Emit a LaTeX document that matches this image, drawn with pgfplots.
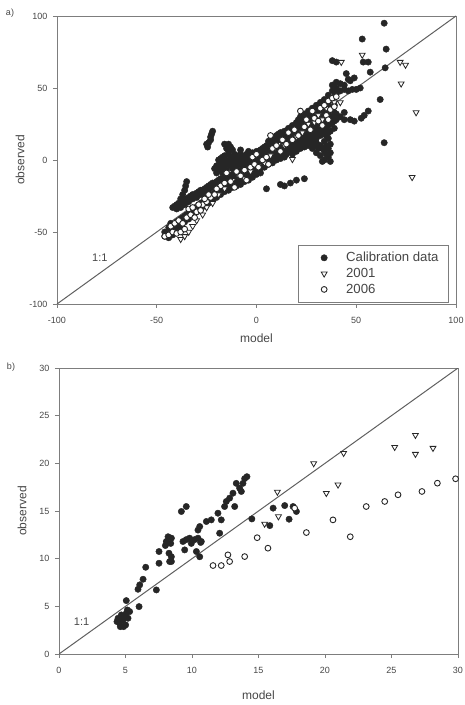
\documentclass[border=0pt]{standalone}
\usepackage{pgfplots}
\pgfplotsset{compat=1.18}
\usepackage{fontspec}
\setmainfont{Liberation Sans}
\definecolor{ink}{RGB}{38,38,38}
\definecolor{frame}{RGB}{125,125,125}
\definecolor{txt}{RGB}{70,70,70}
\definecolor{oneone}{RGB}{95,95,95}

% calibration data, panel a
\pgfplotstableread{
x y
-46 -50
-46 -53
-44 -47
-44 -51
-44 -54
-42 -33
-42 -45
-42 -49
-42 -52
-40 -31
-40 -34
-40 -43
-40 -47
-40 -50
-38 -29
-38 -33
-38 -41
-38 -45
-38 -48
-36 -27
-36 -31
-36 -39
-36 -43
-35 -15
-35.5 -18
-36 -21
-37 -24
-38 -27
-34 -26
-34 -29
-34 -37
-34 -41
-32 -24
-32 -27
-32 -35
-32 -38
-30 -23
-30 -26
-30 -33
-30 -36
-28 -21
-28 -24
-28 -30
-28 -34
-26 -20
-26 -23
-26 -28
-26 -32
-24 -18
-24 -21
-24 -26
-24 -30
-22 -16
-22 -19
-22 -24
-22 -28
-20 -15
-20 -18
-20 -22
-20 -26
-20 -9
-20 -4
-18 -13
-18 -16
-18 -20
-18 -24
-18 -7
-18 -2
-18 1
-16 -12
-16 -15
-16 -19
-16 -22
-16 -5
-16 -1
-16 3
-14 -11
-14 -14
-14 -17
-14 -21
-14 -3
-14 0
-14 4
-12 -10
-12 -13
-12 -16
-12 -19
-12 -6
-12 -1
-12 2
-10 -8
-10 -12
-10 -15
-10 -18
-10 -4
-10 0
-10 3
-8 -7
-8 -10
-8 -14
-8 -17
-8 -3
-8 1
-8 4
-6 -5
-6 -9
-6 -12
-6 -15
-6 -2
-6 2
-4 -4
-4 -8
-4 -11
-4 -14
-4 0
-4 3
-4 6
-2 -2
-2 -6
-2 -9
-2 -12
-2 1
-2 5
0 0
0 -4
0 -7
0 -10
0 3
0 6
2 1
2 -2
2 -6
2 -9
2 4
2 7
4 2
4 -1
4 -5
4 6
4 9
5 -20
6 4
6 0
6 -3
6 7
6 10
6 13
8 5
8 2
8 -2
8 9
8 12
8 15
10 6
10 3
10 0
10 10
10 13
10 17
12 8
12 4
12 1
12 12
12 15
12 19
12 -17
14 9
14 5
14 2
14 13
14 16
14 20
14 -18
16 10
16 6
16 14
16 18
16 22
17 -16
18 12
18 8
18 16
18 20
18 24
18 4
20 14
20 10
20 18
20 22
20 26
20 6
20 -14
22 15
22 11
22 19
22 23
22 27
22 30
22 8
24 16
24 12
24 20
24 24
24 28
24 32
24 9
24 -13
26 18
26 13
26 22
26 26
26 30
26 34
26 10
28 19
28 14
28 23
28 27
28 31
28 36
28 8
30 20
30 15
30 24
30 28
30 32
30 38
30 12
30 5
32 22
32 17
32 26
32 30
32 34
32 40
32 10
32 3
33 -1
34 23
34 18
34 27
34 31
34 35
34 42
34 13
34 6
34 0
36 24
36 19
36 28
36 32
36 38
36 45
36 15
36 8
36 2
37 20
37 25
37 11
37 5
37 -1
38 26
38 30
38 35
38 48
38 52
38 69
40 28
40 32
40 46
40 50
40 54
40 68
42 30
42 48
42 53
44 28
44 33
44 49
44 52
45 60
46 48
46 56
47 28
47 55
48 49
49 27
49 57
50 49
52 50
52.5 29
53 84
53.5 68
54 31
56 34
56 68
57 61
62 42
64 95
64.5 64
64 12
65 77
-22 20
-22.5 18
-23 16
-23 14
-24 12
-25 11
-24.5 9
-16 11
-15 10
-14 11
-13 9
-15 8
-13 8
-12 7
-14 6
-8 7
-43 -48
-43 -44
-41 -46
-41 -32
-39 -44
-39 -30
-37 -40
-37 -28
-35 -38
-35 -27
-33 -36
-33 -25
-31 -34
-31 -24
-29 -32
-29 -22
-27 -30
-27 -21
-25 -27
-25 -19
-23 -25
-23 -17
-21 -23
-21 -16
-21 -6
-19 -21
-19 -14
-19 -5
-19 0
-17 -19
-17 -13
-17 -9
-17 -3
-17 2
-15 -17
-15 -12
-15 -7
-15 -1
-13 -16
-13 -11
-13 -4
-13 1
-11 -14
-11 -9
-11 -2
-11 4
-9 -13
-9 -8
-9 -1
-9 2
-7 -11
-7 -6
-7 0
-7 3
-5 -10
-5 -6
-5 -1
-5 4
-3 -9
-3 -4
-3 2
-1 -7
-1 -3
-1 2
-1 4
1 -5
1 -1
1 3
1 6
3 -3
3 1
3 5
3 8
5 -2
5 3
5 7
5 10
7 0
7 4
7 8
7 11
7 14
9 1
9 5
9 9
9 12
9 16
11 2
11 6
11 11
11 14
11 18
13 3
13 7
13 12
13 16
13 19
15 4
15 8
15 12
15 16
15 20
17 6
17 10
17 14
17 18
17 22
19 7
19 12
19 16
19 20
19 24
21 9
21 13
21 17
21 21
21 25
21 28
23 10
23 14
23 18
23 22
23 26
23 30
25 11
25 15
25 19
25 23
25 27
25 31
27 12
27 16
27 20
27 24
27 28
27 33
29 10
29 17
29 21
29 25
29 29
29 34
31 8
31 18
31 22
31 26
31 30
31 36
33 8
33 20
33 24
33 28
33 33
33 38
35 4
35 10
35 17
35 21
35 26
35 30
35 34
35 40
39 22
39 27
39 33
39 38
39 44
}\calA

% 2001, panel a
\pgfplotstableread{
x y
-38 -55
-36 -53
-34 -50
-32 -46
-30 -42
-27 -38
-25 -33
-22 -30
-19 -24
-16 -20
-12 -14
-9 -11
-6 -13
-3 -8
1 -4
4 -2
7 3
9 8
11 11
14 10
18 0.5
20 16
23 19
26 25
29 26
31 31
33 28
35 36
37 41
39 40
40 45
38 36
42 40
53 73
42.5 68
72 68
74.7 66
72.5 53
80 33
78 -12
}\yrA

% 2006, panel a
\pgfplotstableread{
x y
-46 -53
-44 -52
-42 -50
-40 -51
-38 -50
-36 -48
-43 -46
-41 -44
-39 -42
-37 -44
-35 -40
-33 -38
-31 -40
-30 -36
-28 -35
-27 -31
-25 -29
-34 -34
-32 -33
-29 -31
-26 -27
-23 -26
-21 -24
-18 -18
-16 -16
-13 -15
-11 -19
-10 -8
-8 -11
-6 -7
-5 -14
-3 -5
-1 -3
1 -5
3 0
5 2
6 -3
7 17
8 8
10 10
12 6
13 14
15 11
16 19
18 14
19 21
21 17
22 34
24 23
25 28
27 21
28 34
29 29
31 27
32 36
33 24
34 38
35 31
36 41
37 35
38 43
39 37
40 44
36 28
-2 2
0 4
-15 -9
-20 -20
-24 -24
}\ysA

% calibration data, panel b
\pgfplotstableread{
x y
4.44 3.75
4.56 3.22
4.69 4.10
4.81 3.57
4.94 3.92
5.06 4.27
5.19 3.75
5.31 4.45
5.01 3.05
4.61 2.87
4.36 3.40
5.14 4.62
4.86 2.87
5.06 5.60
6.02 4.97
5.94 6.79
6.07 7.25
6.32 7.84
6.52 9.10
7.32 6.72
7.52 10.75
7.52 9.52
8.00 11.38
8.07 11.80
8.32 9.70
8.45 10.20
8.27 10.57
8.45 12.15
8.40 11.60
8.45 9.70
8.20 12.30
9.20 14.95
9.57 15.47
9.32 11.80
9.45 10.92
9.57 12.00
9.82 12.15
9.95 11.60
10.20 12.00
10.45 12.15
10.70 11.80
10.58 13.37
10.45 13.00
10.33 10.75
10.58 10.20
10.65 11.70
11.08 13.90
11.45 14.07
11.95 14.77
12.08 12.67
12.20 14.07
12.45 15.47
12.58 16.00
12.83 16.35
13.08 16.87
13.21 15.47
13.33 17.90
13.58 17.40
13.71 17.05
13.96 18.40
14.13 18.60
13.83 17.90
14.50 14.17
16.10 15.30
15.85 13.47
16.97 15.57
17.30 14.14
17.60 15.47
17.85 14.95
}\calB

% 2001, panel b
\pgfplotstableread{
x y
16.42 17.00
19.15 19.99
20.10 16.87
20.98 17.75
21.40 21.07
25.24 21.70
26.80 22.96
26.80 20.97
28.12 21.60
16.50 14.42
15.46 13.65
}\yrB

% 2006, panel b
\pgfplotstableread{
x y
11.58 9.28
12.20 9.28
12.83 9.70
12.70 10.40
13.96 10.22
14.90 12.20
15.71 11.10
18.60 12.74
20.60 14.07
21.90 12.30
23.10 15.47
24.49 16.00
25.49 16.70
27.29 17.05
28.45 17.92
29.82 18.38
17.72 15.30
}\ysB

\pgfplotsset{
  panel/.style={
    scale only axis, width=399pt,
    axis line style={frame, line width=0.8pt},
    tick align=outside, xtick pos=bottom, ytick pos=left,
    major tick length=4pt, tick style={frame, line width=0.7pt},
    /pgf/number format/assume math mode=true,
    tick label style={font=\fontsize{9}{10}\selectfont, text=txt},
    xticklabel style={yshift=-6pt},
    yticklabel style={xshift=-2pt},
    label style={font=\fontsize{12}{14}\selectfont, text=txt},
    xlabel=model, ylabel=observed,
    ylabel style={at={(axis description cs:-0.0927,0.5)}, anchor=center},
  },
  cal/.style={only marks, mark=*, mark size=3.2pt, draw=ink, fill=ink},
  yr01/.style={only marks, mark=triangle*, mark size=3.4pt,
    mark options={rotate=180, draw=ink, fill=white, line width=0.8pt}},
  yr06/.style={only marks, mark=*, mark size=2.9pt,
    mark options={draw=ink, fill=white, line width=0.9pt}},
  legimg/.style={legend image code/.code={\path[draw=none,fill=none] (-18pt,0pt) -- (20pt,0pt);
    \draw[mark repeat=2,mark phase=2,##1] plot coordinates {(-1pt,0pt) (0pt,0pt) (1pt,0pt)};}},
}

\begin{document}
\begin{tikzpicture}
\useasboundingbox (0,0) rectangle (465pt,705pt);

\begin{axis}[panel, height=288pt,
  at={(57pt,401pt)}, anchor=south west,
  xmin=-100, xmax=100, ymin=-100, ymax=100,
  xtick={-100,-50,0,50,100}, ytick={-100,-50,0,50,100},
  xlabel style={at={(axis description cs:0.5,-0.118)}, anchor=center},
  legend style={at={(0.982,0.007)}, anchor=south east, draw=frame,
    font=\fontsize{13.2}{15}\selectfont, text=txt, row sep=1pt,
    inner xsep=8pt, inner ysep=5pt},
  legend cell align=left,
]
\addplot[oneone, line width=1pt, forget plot] coordinates {(-100,-100) (100,100)};
\addplot[cal, legimg] table {\calA};
\addlegendentry{Calibration data}
\addplot[yr01, legimg] table {\yrA};
\addlegendentry{2001}
\addplot[yr06, legimg] table {\ysA};
\addlegendentry{2006}
\node[font=\fontsize{11}{12}\selectfont, text=txt] at (axis cs:-78.5,-68) {1:1};
\end{axis}

\begin{axis}[panel, height=286pt,
  at={(59pt,51pt)}, anchor=south west,
  xmin=0, xmax=30, ymin=0, ymax=30,
  xtick={0,5,...,30}, ytick={0,5,...,30},
  xlabel style={at={(axis description cs:0.5,-0.143)}, anchor=center},
]
\addplot[oneone, line width=1pt] coordinates {(0,0) (30,30)};
\addplot[cal] table {\calB};
\addplot[yr01] table {\yrB};
\addplot[yr06] table {\ysB};
\node[font=\fontsize{11}{12}\selectfont, text=txt] at (axis cs:1.7,3.4) {1:1};
\end{axis}

\node[font=\fontsize{9}{10}\selectfont, text=txt] at (10pt,692pt) {a)};
\node[font=\fontsize{9}{10}\selectfont, text=txt] at (11pt,338pt) {b)};
\end{tikzpicture}
\end{document}
